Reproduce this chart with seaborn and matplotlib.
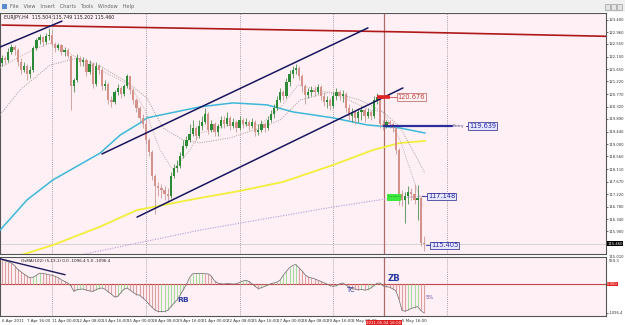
import numpy as np
import pandas as pd
import matplotlib
matplotlib.use("Agg")
import matplotlib.pyplot as plt
import seaborn as sns
from matplotlib.patches import Rectangle

sns.set_style("white")
plt.rcParams['font.family'] = ['Liberation Sans Narrow', 'DejaVu Sans']

# ---------------- data (EURJPY H4, 6 Apr 2011 08:00 .. 6 May 2011 20:00) ----------------
first_open = 121.87
closes = [122.05, 121.98, 122.27, 122.44, 122.34, 121.91, 121.63, 121.77, 121.49, 121.63,
          122.41, 122.69, 122.80, 122.62, 122.83, 122.87, 122.55, 122.41, 122.51, 122.27,
          122.34, 122.12, 121.06, 121.27, 122.05, 121.91, 121.98, 121.56, 121.84, 121.13,
          121.77, 121.63, 121.06, 121.13, 120.56, 120.49, 120.85, 120.99, 120.78, 121.06,
          121.41, 120.92, 120.56, 120.28, 119.93, 119.71, 119.15, 118.72, 117.87, 117.51,
          117.44, 117.37, 117.23, 117.16, 117.87, 118.15, 118.22, 118.58, 118.93, 119.15,
          119.36, 119.57, 119.29, 119.64, 119.78, 120.07, 119.50, 119.71, 119.44, 119.64,
          119.85, 119.71, 119.93, 119.64, 119.78, 119.57, 119.85, 119.71, 119.78, 119.64,
          119.78, 119.44, 119.50, 119.71, 119.57, 119.85, 120.07, 120.28, 120.56, 120.85,
          120.71, 121.20, 121.49, 121.63, 121.70, 121.41, 121.06, 120.74, 120.85, 120.92,
          120.85, 121.02, 120.71, 120.49, 120.56, 120.35, 120.71, 120.85, 120.71, 120.78,
          120.28, 120.00, 120.14, 119.93, 120.14, 120.21, 120.00, 120.14, 120.00, 120.56,
          120.67, 119.71, 119.64, 119.78, 119.71, 119.57, 118.79, 117.23, 117.02, 117.16,
          117.30, 117.23, 117.02, 117.09, 115.504, 115.460]
highs = [122.16, 122.12, 122.41, 122.55, 122.51, 122.41, 122.05, 121.91, 121.84, 121.77,
         122.48, 122.76, 122.90, 122.83, 122.94, 123.12, 123.05, 122.62, 122.58, 122.55,
         122.44, 122.41, 122.16, 121.34, 122.19, 122.12, 122.09, 122.05, 121.98, 121.91,
         121.91, 121.84, 121.70, 121.27, 121.20, 120.71, 120.92, 121.13, 121.06, 121.13,
         121.49, 121.41, 120.99, 120.63, 120.35, 120.07, 119.93, 119.22, 118.79, 117.94,
         117.66, 117.58, 117.51, 117.44, 118.01, 118.29, 118.44, 118.72, 119.15, 119.29,
         119.71, 119.85, 119.64, 119.85, 120.00, 120.28, 120.14, 119.85, 119.78, 119.71,
         120.00, 120.00, 120.14, 120.00, 119.93, 119.85, 120.00, 119.93, 119.93, 119.85,
         119.93, 119.85, 119.71, 119.85, 119.78, 120.00, 120.21, 120.42, 120.71, 120.99,
         120.92, 121.34, 121.63, 121.77, 121.84, 121.77, 121.49, 121.13, 120.99, 121.06,
         121.06, 121.13, 121.09, 120.85, 120.71, 120.63, 120.85, 120.99, 120.92, 120.92,
         120.85, 120.42, 120.28, 120.21, 120.28, 120.35, 120.28, 120.28, 120.21, 120.71,
         120.81, 120.676, 119.85, 119.85, 119.85, 119.78, 119.64, 118.86, 117.37, 117.30,
         117.51, 117.44, 117.58, 117.55, 117.16, 115.749]
lows = [121.77, 121.84, 121.91, 122.19, 122.16, 121.77, 121.49, 121.56, 121.27, 121.34,
        121.56, 122.34, 122.55, 122.48, 122.55, 122.69, 122.48, 122.27, 122.34, 122.16,
        122.12, 122.05, 120.21, 120.85, 121.20, 121.77, 121.77, 121.41, 121.49, 120.99,
        121.06, 121.49, 120.92, 120.92, 120.42, 120.32, 120.42, 120.74, 120.63, 120.71,
        120.99, 120.78, 120.42, 120.14, 119.78, 119.57, 119.00, 118.58, 117.73, 116.52,
        117.16, 117.09, 117.02, 116.95, 117.09, 117.80, 118.01, 118.15, 118.51, 118.86,
        119.07, 119.29, 119.15, 119.22, 119.50, 119.71, 119.36, 119.44, 119.29, 119.29,
        119.57, 119.57, 119.64, 119.50, 119.57, 119.44, 119.50, 119.57, 119.64, 119.50,
        119.57, 119.29, 119.32, 119.44, 119.44, 119.50, 119.78, 119.93, 120.21, 120.49,
        120.56, 120.63, 121.06, 121.34, 121.49, 121.27, 120.85, 120.42, 120.63, 120.71,
        120.71, 120.78, 120.56, 120.35, 120.28, 120.21, 120.28, 120.56, 120.56, 120.49,
        120.14, 119.85, 119.78, 119.71, 119.78, 119.85, 119.78, 119.93, 119.85, 119.93,
        120.42, 119.57, 119.50, 119.57, 119.57, 119.44, 118.65, 116.84, 116.80, 116.20,
        116.88, 117.02, 116.88, 116.31, 115.39, 115.202]

# oscillator (sub window), one value per bar
osc = [930, 880, 840, 790, 700, 560, 470, 380, 300, 230,
       260, 330, 410, 400, 380, 350, 330, 290, 240, 160,
       100, 40, -60, -280, -210, -200, -190, -230, -260, -280,
       -220, -170, -150, -200, -300, -380, -490, -470, -330, -200,
       -150, -230, -320, -400, -420, -520, -620, -760, -880, -990,
       -1040, -1040, -1040, -1000, -860, -730, -600, -420, -220, -20,
       240, 390, 400, 400, 400, 390, 380, 300, 120, 40,
       10, 0, 20, 10, 0, 10, 60, 110, 140, 100,
       10, -90, -170, -140, -90, -40, 10, 40, 70, 150,
       330, 480, 620, 700, 740, 620, 500, 350, 260, 230,
       200, 150, 100, 50, 0, -60, -90, -60, 0, 40,
       -30, -110, -180, -190, -220, -200, -230, -210, -150, -60,
       30, 40, -70, -100, -120, -180, -250, -560, -1000, -1030,
       -980, -920, -890, -850, -1000, -1096.4]

# moving averages read at a few points (bar index, price)
red_ma_bar = [0, 63, 127, 194]
red_ma_val = [123.22, 123.10, 122.98, 122.82]
cyan_bar = [-0.6, 8, 16.3, 31.4, 37.8, 44.2, 46.4, 63.4, 73.9, 84.8, 93.1, 105.9, 116.8, 127.4, 135.4]
cyan_val = [115.95, 117.02, 117.73, 118.68, 119.32, 119.75, 119.93, 120.32, 120.46, 120.39, 120.14, 119.93, 119.68, 119.57, 119.39]
yellow_bar = [-0.6, 5.1, 16.3, 31.4, 43.2, 63.4, 76.2, 90, 106, 118.7, 127.4, 135.4]
yellow_val = [114.80, 115.03, 115.42, 116.07, 116.66, 117.09, 117.34, 117.66, 118.26, 118.79, 119.04, 119.11]
purple_bar = [21.0, 23.4, 63.4, 106, 123.2, 135.4]
purple_val = [114.95, 115.03, 115.95, 116.77, 117.06, 117.16]
gray_slow_bar = [-0.64, 5.76, 15.36, 24.0, 31.36, 40.0, 46.4, 51.52, 57.92, 63.36, 72.96, 82.56,
                 88.96, 95.36, 104.96, 114.56, 121.92, 127.36, 135.36]
gray_slow_val = [120.03, 120.92, 121.80, 122.05, 121.77, 121.20, 120.63, 119.57, 119.15, 119.04,
                 119.22, 119.57, 119.85, 120.56, 120.85, 120.56, 120.14, 119.61, 117.97]
gray_fast_bar = [-0.64, 4.8, 9.92, 15.36, 20.8, 28.16, 34.56, 40.96, 45.76, 50.56, 54.72, 60.16,
                 63.36, 72.96, 82.56, 88.96, 94.72, 101.76, 109.76, 117.76, 121.92, 127.36, 134.72]
gray_fast_val = [121.70, 122.05, 122.34, 122.58, 122.27, 121.80, 121.45, 121.09, 120.21, 118.79,
                 118.08, 118.79, 119.39, 119.68, 119.68, 120.28, 121.09, 120.92, 120.63, 120.21,
                 120.14, 119.15, 116.77]

# chart objects
chan_up_bar, chan_up_val = [32.0, 117.1], [118.65, 123.12]
chan_lo_bar, chan_lo_val = [43.2, 128.3], [116.41, 120.99]
line_tl_bar, line_tl_val = [-0.64, 19.2], [122.44, 123.36]
osc_tl_bar, osc_tl_val = [-0.64, 20.2], [956, 352]

price_ticks = [123.400, 122.960, 122.550, 122.100, 121.650, 121.220, 120.770, 120.320,
               119.890, 119.440, 119.000, 118.560, 118.110, 117.670, 117.220, 116.780,
               116.340, 115.900]
date_tick_bar = [0, 8, 16, 24, 32, 40, 48, 56, 64, 72, 80, 88, 96, 104, 112, 128]
date_tick_lab = ["6 Apr 2011", "7 Apr 16:00", "11 Apr 00:00", "12 Apr 08:00", "13 Apr 16:00",
                 "15 Apr 00:00", "18 Apr 08:00", "19 Apr 16:00", "21 Apr 00:00", "22 Apr 08:00",
                 "25 Apr 16:00", "27 Apr 00:00", "28 Apr 08:00", "29 Apr 16:00", "3 May 00:00",
                 "5 May 16:00"]
separator_bar = [16, 46, 76, 106, 142.4]
last_price = 115.460
entry_price = 119.639
high_mark = 120.676
tp_price = 117.148
low_mark = 115.405

# ---------------- figure ----------------
W, H = 625, 325
fig = plt.figure(figsize=(6.25, 3.25), dpi=100, facecolor='white')

def rect(x0, y0, x1, y1):
    return [x0 / W, 1 - y1 / H, (x1 - x0) / W, (y1 - y0) / H]

BG = '#fff0f5'
RIGHT = 606
ax = fig.add_axes(rect(0, 13, RIGHT, 254), facecolor=BG)
axs = fig.add_axes(rect(0, 257, RIGHT, 316), facecolor=BG)
XL = (-0.64, (RIGHT - 2) / 3.125)
ax.set_xlim(*XL)
axs.set_xlim(*XL)
ax.set_ylim(115.102, 123.648)
axs.set_ylim(-1210, 1023)

n = len(closes)
idx = np.arange(n)
opens = [first_open] + closes[:-1]
df = pd.DataFrame({'bar': idx, 'open': opens, 'high': highs, 'low': lows, 'close': closes})
up = df['close'] >= df['open']

# separators / vertical line
for b in separator_bar:
    for a in (ax, axs):
        a.axvline(b, color='#8a8a8a', lw=0.6, ls=(0, (1, 1.5)), zorder=1)
for a in (ax, axs):
    a.axvline(122.2, color='#b06a6a', lw=0.9, zorder=2)

ax.axhline(last_price, color='#cfcfcf', lw=0.6, zorder=1)

# moving averages
sns.lineplot(x=red_ma_bar, y=red_ma_val, ax=ax, color='#b01818', lw=1.2, zorder=3)
sns.lineplot(x=cyan_bar, y=cyan_val, ax=ax, color='#3cb8d8', lw=1.1, zorder=3)
sns.lineplot(x=yellow_bar, y=yellow_val, ax=ax, color='#f2ee3a', lw=1.3, zorder=3)
sns.lineplot(x=purple_bar, y=purple_val, ax=ax, color='#b795d8', lw=0.8, ls=(0, (1, 1.3)), zorder=3)
sns.lineplot(x=gray_slow_bar, y=gray_slow_val, ax=ax, color='#a49c92', lw=0.7, ls=(0, (1, 1.4)), zorder=3)
sns.lineplot(x=gray_fast_bar, y=gray_fast_val, ax=ax, color='#b8aca4', lw=0.7, ls=(0, (1, 1.4)), zorder=3)

# candles
wick_col = np.where(up, '#4f8f4f', '#c79a96')
body_col = np.where(up, '#2a8a36', '#d4928a')
ax.vlines(df['bar'], df['low'], df['high'], colors=wick_col, lw=0.6, zorder=4)
body_h = np.maximum((df['close'] - df['open']).abs(), 0.015)
ax.bar(df['bar'], body_h, bottom=np.minimum(df['open'], df['close']), width=0.72,
       color=body_col, edgecolor='none', zorder=5)

# trend lines
for bx, by in ((chan_up_bar, chan_up_val), (chan_lo_bar, chan_lo_val), (line_tl_bar, line_tl_val)):
    sns.lineplot(x=bx, y=by, ax=ax, color='#16165e', lw=1.1, zorder=6)

# trade markers
box_kw = dict(fontsize=4.8, va='center', ha='left', zorder=8)
ax.plot([120, 124.2], [high_mark, high_mark], color='#e02424', lw=2.6, solid_capstyle='butt', zorder=7)
ax.plot([124.2, 126.4], [high_mark, high_mark], color='#d06060', lw=0.7, zorder=7)
ax.text(126.6, high_mark, f"{high_mark:.3f}", color='#c03c3c',
        bbox=dict(boxstyle='square,pad=0.12', fc='#fff4f4', ec='#c87070', lw=0.6), **box_kw)

ax.plot([122.3, 144.0], [entry_price, entry_price], color='#2d2d9a', lw=1.6, zorder=7)
ax.text(144.2, entry_price, "Entry", fontsize=3.2, color='#404080', va='center', ha='left', zorder=8)
ax.plot([148.4, 149.4], [entry_price, entry_price], color='#2d2d9a', lw=0.7, zorder=7)
ax.text(149.5, entry_price, f"{entry_price:.3f}", color='#2828a0',
        bbox=dict(boxstyle='square,pad=0.12', fc='#e6e6ff', ec='#4040a0', lw=0.6), **box_kw)

ax.add_patch(Rectangle((123.2, 116.98), 4.6, 0.25, fc='#3ee83e', ec='none', zorder=7))
ax.plot([123.4, 127.6], [tp_price, tp_price], color='#1a8a1a', lw=0.5, ls=(0, (1, 1)), zorder=8)
ax.plot([134.3, 136.2], [tp_price, tp_price], color='#4040a0', lw=0.7, zorder=7)
ax.text(136.3, tp_price, f"{tp_price:.3f}", color='#2828a0',
        bbox=dict(boxstyle='square,pad=0.12', fc='#e6e6ff', ec='#4040a0', lw=0.6), **box_kw)
ax.plot([135.6, 137.2], [low_mark, low_mark], color='#4040a0', lw=0.7, zorder=7)
ax.text(137.3, low_mark, f"{low_mark:.3f}", color='#2828a0',
        bbox=dict(boxstyle='square,pad=0.12', fc='#e6e6ff', ec='#4040a0', lw=0.6), **box_kw)

ax.text(0.5, 123.50, "EURJPY,H4  115.504 115.749 115.202 115.460", fontsize=3.4, color='#202020',
        va='center', ha='left', zorder=9)

# price axis
AX_FS = 2.7
ax.yaxis.tick_right()
ax.set_yticks(price_ticks)
ax.set_yticklabels([f"{p:.3f}" for p in price_ticks])
ax.tick_params(axis='y', labelsize=AX_FS, length=1.2, width=0.5, pad=0.5, colors='#303030')
ax.set_xticks([])
ax.text(1.002, last_price, f"{last_price:.3f}", transform=ax.get_yaxis_transform(), fontsize=AX_FS,
        color='white', va='center', ha='left',
        bbox=dict(boxstyle='square,pad=0.12', fc='black', ec='none'), clip_on=False, zorder=9)
ax.text(1.004, 115.01, "115.010", transform=ax.get_yaxis_transform(), fontsize=AX_FS,
        color='#303030', va='center', ha='left', clip_on=False)

# ---------------- sub window ----------------
osc_col = ['#a6dca0' if (i > 0 and osc[i] >= osc[i - 1]) else '#dca0a0' for i in range(n)]
axs.vlines(idx, 0, osc, colors=osc_col, lw=0.8, zorder=3)
sns.lineplot(x=idx, y=osc, ax=axs, color='#7a7a7a', lw=0.6, zorder=4)
axs.axhline(0, color='#c24444', lw=0.8, zorder=2)
sns.lineplot(x=osc_tl_bar, y=osc_tl_val, ax=axs, color='#1c1c5a', lw=1.0, zorder=5)
axs.text(6, 880, "OsMA(102) (5,13,1) 0.0 -1096.4 5.0 -1096.4", fontsize=3.0, color='#202020',
         va='center', ha='left', zorder=6)
axs.text(56, -600, "RB", fontsize=5.4, color='#2a3aa0', fontweight='bold', va='center', zorder=6)
axs.text(110, -220, "TC", fontsize=5.0, color='#2a3aa0', va='center', zorder=6)
axs.text(123.3, 200, "ZB", fontsize=6.2, color='#2a3aa0', fontweight='bold', va='center', zorder=6)
axs.text(135.5, -500, "5%", fontsize=3.8, color='#7a4ab0', va='center', zorder=6)

axs.yaxis.tick_right()
axs.set_yticks([-1096.4])
axs.set_yticklabels(["-1096.4"])
axs.tick_params(axis='y', labelsize=AX_FS, length=1.2, width=0.5, pad=0.5, colors='#303030')
axs.text(1.004, 0.94, "559.3", transform=axs.transAxes, fontsize=AX_FS, color='#303030', va='center',
         ha='left', clip_on=False)
axs.text(1.002, 0, "0.000", transform=axs.get_yaxis_transform(), fontsize=AX_FS, color='white',
         va='center', ha='left', bbox=dict(boxstyle='square,pad=0.12', fc='#e02020', ec='none'),
         clip_on=False)

axs.set_xticks(date_tick_bar)
axs.set_xticklabels(date_tick_lab, ha='left')
axs.tick_params(axis='x', labelsize=2.9, length=1.5, width=0.5, pad=1, colors='#303030')
axs.text(122.2, -0.085, "2011.05.04 16:00", transform=axs.get_xaxis_transform(), fontsize=2.9,
         color='white', va='top', ha='center',
         bbox=dict(boxstyle='square,pad=0.15', fc='#e02020', ec='none'), clip_on=False, zorder=10)

for a in (ax, axs):
    a.set_xlabel("")
    a.set_ylabel("")
    for s in a.spines.values():
        s.set_color('#555555')
        s.set_linewidth(0.8)
    if a.get_legend():
        a.get_legend().remove()

# window chrome (menu bar)
fig.patches.append(Rectangle((0, 1 - 12 / H), 1, 12 / H, transform=fig.transFigure,
                             fc='#f0f0f0', ec='none', zorder=0))
fig.patches.append(Rectangle((2 / W, 1 - 9 / H), 5 / W, 5 / H, transform=fig.transFigure,
                             fc='#5a8ad0', ec='none'))
fig.text(10 / W, 1 - 6.5 / H, "File   View   Insert   Charts   Tools   Window   Help", fontsize=3.6,
         color='#666666', va='center', ha='left')
for k, xb in enumerate([605, 611, 617]):
    fig.patches.append(Rectangle((xb / W, 1 - 10 / H), 5 / W, 6 / H, transform=fig.transFigure,
                                 fc='#e4e4e4', ec='#8a8a8a', lw=0.4))

fig.savefig("out.png", dpi=100, facecolor='white')
